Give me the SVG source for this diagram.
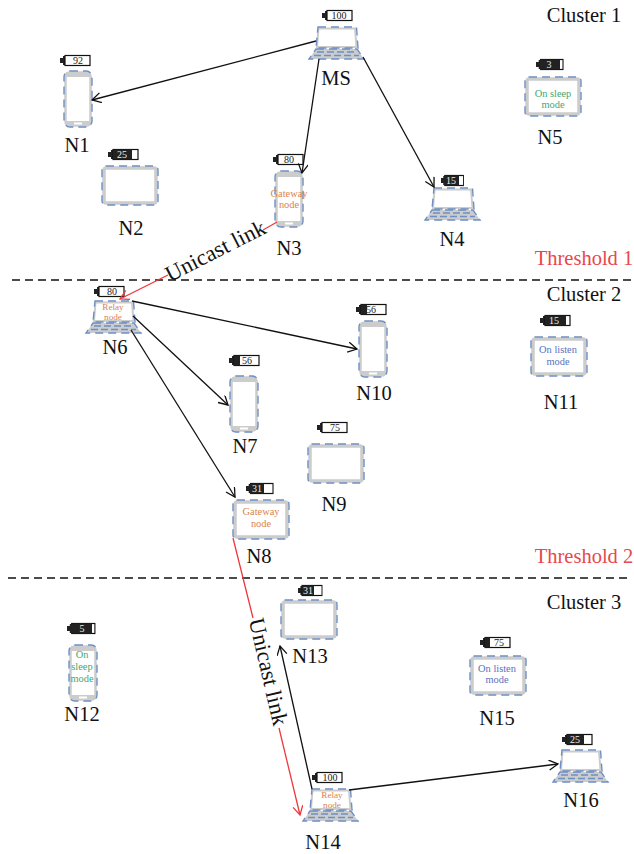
<svg xmlns="http://www.w3.org/2000/svg" width="634" height="854" viewBox="0 0 634 854">
<style>
text{font-family:"Liberation Serif",serif}
.lbl{font-size:20.5px;fill:#111;text-anchor:middle}
.lnk{font-size:22.500px;fill:#111;text-anchor:middle}
.hd{font-size:20.5px;fill:#111;text-anchor:middle}
.th{font-size:20.5px;fill:#e8474c;text-anchor:middle}
.pct{font-size:10px;text-anchor:middle;fill:#222}
.pctw{font-size:10px;text-anchor:middle;fill:#eee}
.dev{font-size:10.4px;text-anchor:middle}
.sm{font-size:9.200px}
.or{fill:#d9834f}.gr{fill:#3fa873}.bl{fill:#5a72bd}
.bez{fill:#fff;stroke:#ccc;stroke-width:3.5}
.dash{fill:none;stroke:#6e8fc4;stroke-width:1.4;stroke-dasharray:8 5}
.base{fill:#ccc;stroke:none}
.kb{fill:none;stroke:#6e8fc4;stroke-width:1.3;stroke-dasharray:7 3}
.ln{stroke:#111;stroke-width:1.3;fill:none}
.rd{stroke:#f0383c;stroke-width:1.3;fill:none}
.sep{stroke:#111;stroke-width:1.4;stroke-dasharray:8 5;fill:none}
.fill{fill:#222}
</style>
<defs>
<marker id="ah" markerWidth="12" markerHeight="12" refX="10" refY="5" orient="auto" markerUnits="userSpaceOnUse"><path d="M1 0L10 5L1 10" fill="none" stroke="#111" stroke-width="1.3"/></marker>
<marker id="ahr" markerWidth="12" markerHeight="12" refX="10" refY="5" orient="auto" markerUnits="userSpaceOnUse"><path d="M1 0L10 5L1 10" fill="none" stroke="#f0383c" stroke-width="1.3"/></marker>
<g id="phone"><rect x="1.500" y="1.500" width="25" height="53" rx="4" fill="#fff" stroke="#ccc" stroke-width="2.500"/><rect x="2" y="1" width="24" height="5" fill="#ccc"/><rect x="2" y="50" width="24" height="5" fill="#ccc"/><rect x="10" y="51.500" width="8" height="2" fill="#fff"/><rect x="0" y="0" width="28" height="56" rx="6" class="dash"/></g>
<g id="tablet"><rect x="2" y="2" width="52" height="35" rx="2" class="bez"/><rect x="0" y="0" width="56" height="39" rx="4" class="dash"/></g>
<g id="laptop"><path d="M9.500 1.500H46L47.500 20H8Z" fill="#fff" stroke="#ccc" stroke-width="2"/><path d="M9 0H47.500L49 21H7Z" class="dash"/><path d="M7 22H48L55 32H0Z" class="base"/><path d="M7 22H48L55 32H0Z" class="dash"/><path d="M8 25H47M5 28.500H50" class="kb"/></g>
<g id="bat"><rect x="0" y="3" width="4" height="5" fill="#222"/><rect x="3" y="1" width="3" height="9" fill="#222"/><rect x="5" y="0.500" width="25" height="10" fill="#fff" stroke="#111" stroke-width="1.200"/></g>
</defs>

<g id="separators"><path class="sep" d="M12 280H634"/><path class="sep" d="M8 578H632"/></g>
<g id="titles">
<text class="hd" x="584" y="22">Cluster 1</text>
<text class="hd" x="584" y="301">Cluster 2</text>
<text class="hd" x="584" y="609">Cluster 3</text>
<text class="th" x="584" y="265">Threshold 1</text>
<text class="th" x="584" y="563">Threshold 2</text>
</g>

<g id="MS"><use href="#laptop" x="309" y="27"/><use href="#bat" x="322" y="10"/><text class="pct" x="339" y="19">100</text><text class="lbl" x="336" y="85">MS</text></g>
<g id="N1"><use href="#phone" x="64" y="71"/><use href="#bat" x="60" y="55"/><text class="pct" x="78" y="64">92</text><text class="lbl" x="77" y="152">N1</text></g>
<g id="N2"><use href="#tablet" x="102" y="166"/><use href="#bat" x="108" y="149"/><rect class="fill" x="113" y="149.500" width="19" height="10"/><text class="pctw" x="122" y="158">25</text><text class="lbl" x="131" y="235">N2</text></g>
<g id="N3"><use href="#phone" x="275" y="171"/><use href="#bat" x="273" y="154"/><text class="pct" x="289" y="163">80</text><text class="dev or" x="289" y="197">Gateway</text><text class="dev or" x="289" y="208">node</text><text class="lbl" x="289" y="255">N3</text></g>
<g id="N4"><use href="#laptop" x="425" y="188"/><use href="#bat" transform="translate(441 175) scale(.75 1)"/><rect class="fill" x="444" y="175.500" width="15" height="10"/><text class="pctw" x="451" y="184">15</text><text class="lbl" x="452" y="246">N4</text></g>
<g id="N5"><use href="#tablet" x="525" y="77"/><use href="#bat" transform="translate(536 59) scale(.9 1)"/><rect class="fill" x="540" y="59.500" width="20" height="10"/><text class="pctw" x="549" y="68">3</text><text class="dev gr" x="553" y="97">On sleep</text><text class="dev gr" x="553" y="108">mode</text><text class="lbl" x="550" y="144">N5</text></g>
<g id="N6"><use href="#laptop" x="86" y="301"/><use href="#bat" x="94" y="286"/><text class="pct" x="112" y="295">80</text><text class="dev sm or" x="113" y="310">Relay</text><text class="dev sm or" x="113" y="320">node</text><text class="lbl" x="115" y="354">N6</text></g>
<g id="N7"><use href="#phone" x="230" y="376"/><use href="#bat" x="229" y="355"/><rect class="fill" x="234" y="355.500" width="6" height="10"/><text class="pct" x="247" y="364">56</text><text class="lbl" x="245" y="453">N7</text></g>
<g id="N8"><use href="#tablet" x="233" y="500"/><use href="#bat" transform="translate(246 483) scale(.9 1)"/><rect class="fill" x="250" y="483.500" width="14" height="10"/><text class="pctw" x="257" y="492">31</text><text class="dev or" x="261" y="515">Gateway</text><text class="dev or" x="261" y="527">node</text><text class="lbl" x="259" y="563">N8</text></g>
<g id="N9"><use href="#tablet" x="308" y="444"/><use href="#bat" x="317" y="422"/><text class="pct" x="335" y="431">75</text><text class="lbl" x="334" y="511">N9</text></g>
<g id="N10"><use href="#phone" x="359" y="321"/><use href="#bat" x="356" y="304"/><rect class="fill" x="361" y="304.500" width="6" height="10"/><text class="pct" x="371" y="313">56</text><text class="lbl" x="374" y="400">N10</text></g>
<g id="N11"><use href="#tablet" x="531" y="337"/><use href="#bat" x="540" y="315"/><rect class="fill" x="545" y="315.500" width="21" height="10"/><text class="pctw" x="554" y="324">15</text><text class="dev bl" x="558" y="353">On listen</text><text class="dev bl" x="558" y="365">mode</text><text class="lbl" x="561" y="409">N11</text></g>
<g id="N12"><use href="#phone" x="69" y="645"/><use href="#bat" transform="translate(67 623) scale(.93 1)"/><rect class="fill" x="71" y="623.500" width="21" height="10"/><text class="pctw" x="82" y="632">5</text><text class="dev gr" x="82" y="658">On</text><text class="dev gr" x="82" y="670">sleep</text><text class="dev gr" x="82" y="682">mode</text><text class="lbl" x="82" y="721">N12</text></g>
<g id="N13"><use href="#tablet" x="281" y="600"/><use href="#bat" transform="translate(298 585) scale(.8 1)"/><rect class="fill" x="302" y="585.500" width="12" height="10"/><text class="pctw" x="308" y="594">31</text><text class="lbl" x="310" y="663">N13</text></g>
<g id="N14"><use href="#laptop" x="303" y="789"/><use href="#bat" x="312" y="772"/><text class="pct" x="330" y="781">100</text><text class="dev sm or" x="332" y="798">Relay</text><text class="dev sm or" x="332" y="808">node</text><text class="lbl" x="323" y="849">N14</text></g>
<g id="N15"><use href="#tablet" x="470" y="656"/><use href="#bat" x="480" y="637"/><rect class="fill" x="485" y="637.500" width="5" height="10"/><text class="pct" x="499" y="646">75</text><text class="dev bl" x="497" y="672">On listen</text><text class="dev bl" x="497" y="683">mode</text><text class="lbl" x="497" y="725">N15</text></g>
<g id="N16"><use href="#laptop" x="553" y="750"/><use href="#bat" x="562" y="734"/><rect class="fill" x="567" y="734.500" width="17" height="10"/><text class="pctw" x="575" y="743">25</text><text class="lbl" x="581" y="807">N16</text></g>

<g id="connectors">
<path class="ln" marker-end="url(#ah)" d="M316 41L92 100"/>
<path class="ln" marker-end="url(#ah)" d="M319 59L302 173"/>
<path class="ln" marker-end="url(#ah)" d="M363 57L434 187"/>
<path class="ln" marker-end="url(#ah)" d="M132 301L357 349"/>
<path class="ln" marker-end="url(#ah)" d="M133 316L228 405"/>
<path class="ln" marker-end="url(#ah)" d="M131 330L235 497"/>
<path class="ln" marker-end="url(#ah)" d="M312 789L280 646"/>
<path class="ln" marker-end="url(#ah)" d="M349 790L558 764"/>
<path class="rd" d="M277 222L263 230"/>
<path class="rd" marker-end="url(#ahr)" d="M168 275L120 299"/>
<path class="rd" d="M233 538L253 618"/>
<path class="rd" marker-end="url(#ahr)" d="M279 728L300 815"/>
<text class="lnk" x="216" y="258" transform="rotate(-27 216 252)">Unicast link</text>
<text class="lnk" x="267" y="678" transform="rotate(77 267 672)">Unicast link</text>
</g>
</svg>
